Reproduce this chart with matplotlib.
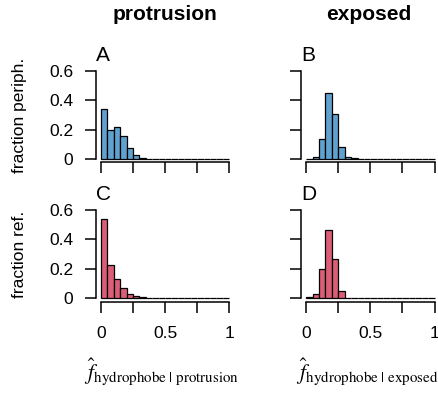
import numpy as np
import matplotlib
matplotlib.use("Agg")
import matplotlib.pyplot as plt

plt.rcParams['font.family'] = ['Liberation Sans', 'DejaVu Sans']
plt.rcParams['mathtext.fontset'] = 'stix'

# bins of width 0.05 on [0, 1]
bin_edges = np.linspace(0, 1, 21)

# fraction of residues per bin
periph_protrusion = [0.343, 0.198, 0.218, 0.154, 0.071, 0.023, 0.002, 0.001, 0.001, 0.001,
                     0.001, 0.001, 0.001, 0.001, 0.0, 0.0, 0.0, 0.0, 0.0, 0.0]
periph_exposed = [0.001, 0.009, 0.135, 0.450, 0.306, 0.080, 0.009, 0.004, 0.001, 0.0,
                  0.0, 0.0, 0.0, 0.0, 0.0, 0.0, 0.0, 0.0, 0.0, 0.0]
ref_protrusion = [0.539, 0.225, 0.130, 0.066, 0.027, 0.011, 0.006, 0.003, 0.002, 0.002,
                  0.002, 0.001, 0.001, 0.001, 0.001, 0.001, 0.001, 0.001, 0.001, 0.001]
ref_exposed = [0.004, 0.025, 0.198, 0.464, 0.266, 0.050, 0.002, 0.001, 0.0, 0.0,
               0.0, 0.0, 0.0, 0.0, 0.0, 0.0, 0.0, 0.0, 0.0, 0.0]

col_titles = ["protrusion", "exposed"]
row_labels = ["fraction periph.", "fraction ref."]
panel_letters = ["A", "B", "C", "D"]
x_ticks = [0, 0.25, 0.5, 0.75, 1]
x_ticklabels = ["0", "", "0.5", "", "1"]
y_ticks = [0, 0.2, 0.4, 0.6]
y_ticklabels = ["0", "0.2", "0.4", "0.6"]
blue = "#5FA2CF"
red = "#DC5E76"

W, H = 438, 396
fig = plt.figure(figsize=(W / 100, H / 100), dpi=100)


def px_axes(left, top, right, bottom):
    return fig.add_axes([left / W, 1 - bottom / H, (right - left) / W, (bottom - top) / H])


def px_text(x, y, s, **kw):
    return fig.text(x / W, 1 - y / H, s, **kw)


boxes = [(95.7, 67.8, 234.4, 162.2), (301, 67.8, 439.7, 162.2),
         (95.7, 206.5, 234.4, 301.5), (301, 206.5, 439.7, 301.5)]
datas = [periph_protrusion, periph_exposed, ref_protrusion, ref_exposed]
colors = [blue, blue, red, red]

for i, (box, vals, c) in enumerate(zip(boxes, datas, colors)):
    ax = px_axes(*box)
    ax.bar(bin_edges[:-1], vals, width=0.05, align='edge', color=c,
           edgecolor='black', linewidth=0.9)
    ax.set_xlim(-0.04, 1.04)
    ax.set_ylim(-0.024, 0.624)
    for s in ['top', 'right']:
        ax.spines[s].set_visible(False)
    ax.spines['left'].set_bounds(0, 0.6)
    ax.spines['bottom'].set_bounds(0, 1)
    for s in ['left', 'bottom']:
        ax.spines[s].set_linewidth(1.1)
    ax.set_xticks(x_ticks)
    ax.set_yticks(y_ticks)
    ax.tick_params(length=8, width=1.1, labelsize=12.5)
    ax.tick_params(axis='x', pad=10)
    ax.tick_params(axis='y', pad=8)
    if i < 2:
        ax.set_xticklabels([])
        ax.set_yticklabels(y_ticklabels if i == 0 else [])
    else:
        ax.set_xticklabels(x_ticklabels)
        ax.set_yticklabels(y_ticklabels if i == 2 else [])
    px_text(box[0], box[1] - 12, panel_letters[i], ha='left', va='center', fontsize=15)

px_text(165, 15, col_titles[0], ha='center', va='center', fontsize=15, fontweight='bold')
px_text(369, 15, col_titles[1], ha='center', va='center', fontsize=15, fontweight='bold')
px_text(20, 115, row_labels[0], rotation=90, ha='center', va='center', fontsize=12.5)
px_text(20, 254, row_labels[1], rotation=90, ha='center', va='center', fontsize=12.5)
px_text(162, 372, r'$\hat{f}_{\mathrm{hydrophobe\ |\ protrusion}}$',
        ha='center', va='center', fontsize=15.5)
px_text(367, 372, r'$\hat{f}_{\mathrm{hydrophobe\ |\ exposed}}$',
        ha='center', va='center', fontsize=15.5)

fig.savefig("out.png", dpi=100)
